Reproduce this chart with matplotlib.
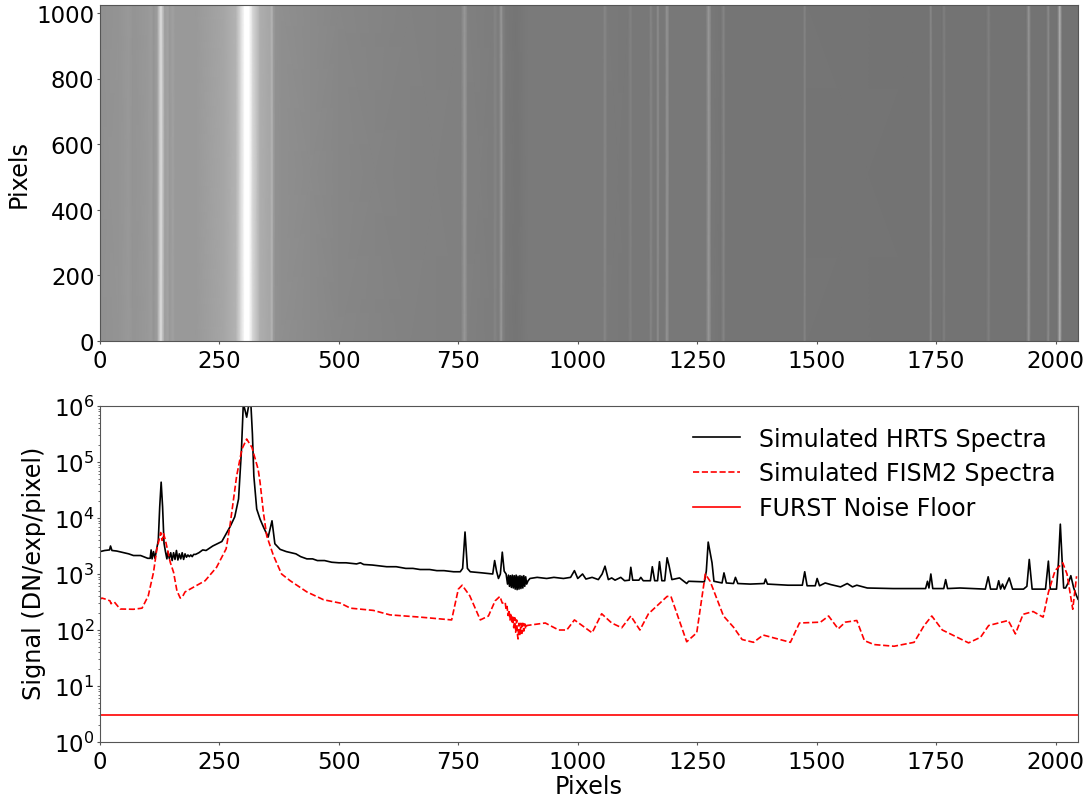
import matplotlib
matplotlib.use('AGG')

import numpy as np
import matplotlib.pyplot as plt

plt.rcParams['font.size'] = 17
plt.rcParams['axes.edgecolor'] = '#555555'
plt.rcParams['xtick.color'] = '#555555'
plt.rcParams['ytick.color'] = '#555555'
plt.rcParams['xtick.labelcolor'] = 'black'
plt.rcParams['ytick.labelcolor'] = 'black'
plt.rcParams['xtick.labelsize'] = 16.5
plt.rcParams['ytick.labelsize'] = 16.5
plt.rcParams['xtick.major.size'] = 2.5
plt.rcParams['ytick.major.size'] = 2.5
plt.rcParams['ytick.minor.size'] = 1.5
plt.rcParams['xtick.major.pad'] = 3
plt.rcParams['ytick.major.pad'] = 1.5

# Detector image: column position and grey level of the stripes
stripe_x = [0, 40, 60, 70, 100, 108, 112, 120, 124, 128, 132, 136, 142, 146, 152, 158, 200, 260, 285, 295, 303, 312,
            320, 335, 355, 360, 364, 368, 380, 500, 650, 756, 763, 770, 822, 827, 832, 836, 840, 844, 850, 870, 885,
            895, 1000, 1052, 1057, 1062, 1105, 1110, 1115, 1149, 1153, 1158, 1164, 1168, 1172, 1182, 1187, 1192,
            1268, 1274, 1280, 1300, 1305, 1310, 1471, 1475, 1479, 1735, 1739, 1743, 1763, 1767, 1771, 1855, 1860,
            1865, 1939, 1944, 1949, 1981, 1985, 1989, 2004, 2009, 2014, 2047]
stripe_gray = [0.57, 0.58, 0.60, 0.58, 0.60, 0.61, 0.58, 0.62, 0.76, 0.86, 0.74, 0.62, 0.64, 0.60, 0.63, 0.60, 0.60,
               0.65, 0.70, 0.86, 1.0, 1.0, 0.84, 0.68, 0.65, 0.70, 0.60, 0.57, 0.56, 0.53, 0.51, 0.50, 0.60, 0.50,
               0.49, 0.52, 0.49, 0.50, 0.60, 0.50, 0.47, 0.46, 0.47, 0.48, 0.48, 0.48, 0.53, 0.48, 0.47, 0.51, 0.47,
               0.47, 0.52, 0.47, 0.47, 0.55, 0.47, 0.47, 0.58, 0.47, 0.47, 0.60, 0.47, 0.46, 0.52, 0.46, 0.46, 0.52,
               0.46, 0.45, 0.53, 0.45, 0.45, 0.50, 0.45, 0.45, 0.50, 0.45, 0.45, 0.58, 0.45, 0.45, 0.55, 0.45, 0.45,
               0.68, 0.45, 0.45]
image_rows = [0, 1024]

# HRTS spectrum, log10 of the signal
hrts_x = [0, 10, 20, 22, 25, 35, 50, 60, 70, 85, 100, 105, 107, 109, 112, 115, 118, 122, 125, 128, 131, 134, 137, 140,
          142, 145, 148, 151, 154, 157, 160, 163, 166, 169, 172, 175, 178, 181, 184, 187, 190, 193, 196, 200, 207,
          215, 222, 236, 255, 272, 282, 290, 296, 300, 307, 312, 316, 319, 322, 328, 335, 342, 352, 360, 366, 377,
          390, 400, 410, 420, 433, 445, 455, 470, 485, 500, 515, 537, 545, 552, 570, 590, 600, 620, 640, 655, 670,
          690, 705, 720, 740, 754, 759, 764, 769, 775, 800, 822, 826, 830, 834, 838, 842, 846, 850, 853, 855, 857,
          859, 861, 863, 865, 867, 869, 871, 873, 875, 877, 879, 881, 883, 885, 887, 889, 891, 893, 896, 900, 915,
          935, 950, 970, 985, 993, 1000, 1010, 1017, 1030, 1043, 1051, 1057, 1064, 1071, 1078, 1090, 1098, 1108,
          1111, 1115, 1128, 1132, 1137, 1152, 1156, 1161, 1167, 1171, 1176, 1182, 1187, 1191, 1197, 1213, 1228, 1232,
          1265, 1269, 1273, 1281, 1285, 1302, 1306, 1311, 1326, 1330, 1335, 1361, 1390, 1393, 1397, 1440, 1470, 1475,
          1480, 1497, 1501, 1506, 1518, 1530, 1550, 1564, 1575, 1584, 1606, 1660, 1728, 1732, 1735, 1739, 1743,
          1766, 1770, 1774, 1800, 1853, 1859, 1864, 1877, 1881, 1885, 1889, 1893, 1903, 1910, 1933, 1940, 1945,
          1951, 1979, 1985, 1989, 2002, 2006, 2010, 2014, 2017, 2021, 2028, 2032, 2038, 2044, 2047]
hrts_log = [3.40, 3.42, 3.43, 3.50, 3.42, 3.41, 3.38, 3.36, 3.33, 3.33, 3.28, 3.28, 3.43, 3.27, 3.40, 3.28, 3.42, 3.60,
            4.20, 4.64, 4.20, 3.55, 3.40, 3.27, 3.40, 3.28, 3.38, 3.24, 3.38, 3.26, 3.42, 3.25, 3.36, 3.27, 3.38, 3.26,
            3.36, 3.30, 3.34, 3.31, 3.34, 3.31, 3.35, 3.35, 3.38, 3.43, 3.42, 3.50, 3.58, 3.84, 4.02, 4.34, 5.20, 6.05,
            5.80, 6.05, 6.00, 5.50, 4.75, 4.16, 3.98, 3.84, 3.66, 3.95, 3.54, 3.44, 3.40, 3.38, 3.36, 3.31, 3.27, 3.27,
            3.24, 3.24, 3.21, 3.20, 3.20, 3.18, 3.20, 3.17, 3.16, 3.14, 3.13, 3.13, 3.10, 3.10, 3.08, 3.08, 3.06, 3.06,
            3.04, 3.04, 3.10, 3.75, 3.10, 3.04, 3.02, 3.00, 3.24, 3.05, 2.92, 3.00, 3.39, 3.05, 3.00, 2.82, 2.98, 2.78,
            2.97, 2.76, 2.98, 2.75, 2.97, 2.73, 2.98, 2.72, 2.96, 2.73, 2.97, 2.74, 2.96, 2.75, 2.97, 2.78, 2.95, 2.82,
            2.88, 2.92, 2.94, 2.92, 2.94, 2.92, 2.94, 3.06, 2.92, 3.00, 2.91, 2.94, 2.90, 3.00, 3.14, 2.90, 2.93,
            2.89, 2.94, 2.88, 2.89, 3.12, 2.89, 2.89, 2.94, 2.88, 2.88, 3.13, 2.88, 2.88, 3.22, 2.88, 2.88, 3.29, 3.15,
            2.90, 2.93, 2.83, 2.87, 2.86, 3.05, 3.57, 3.20, 2.87, 2.84, 3.02, 2.84, 2.83, 2.94, 2.83, 2.82, 2.83, 2.91,
            2.82, 2.80, 2.80, 3.04, 2.79, 2.79, 2.92, 2.79, 2.84, 2.81, 2.77, 2.83, 2.77, 2.80, 2.75, 2.74, 2.74, 2.87,
            2.75, 3.00, 2.74, 2.74, 2.90, 2.74, 2.75, 2.73, 2.95, 2.73, 2.73, 2.88, 2.73, 2.82, 2.73, 2.93, 2.73, 2.73,
            2.78, 3.26, 2.73, 2.73, 3.23, 2.73, 2.73, 3.20, 3.89, 3.20, 2.75, 2.75, 2.87, 2.97, 2.75, 2.61, 2.55]

# FISM2 spectrum, log10 of the signal
fism_x = [0, 4, 12, 21, 23, 30, 42, 70, 88, 101, 112, 119, 124, 127, 130, 133, 137, 147, 154, 161, 168, 173, 178,
          220, 244, 264, 272, 286, 297, 307, 318, 331, 335, 342, 349, 363, 380, 398, 433, 468, 503, 524, 572, 607,
          670, 736, 750, 758, 774, 796, 813, 827, 837, 842, 848, 850, 852, 854, 856, 858, 860, 862, 864, 866, 868,
          870, 872, 874, 875, 877, 879, 881, 883, 885, 887, 889, 891, 893, 932, 960, 977, 993, 1030, 1050, 1071,
          1092, 1111, 1130, 1148, 1187, 1195, 1228, 1249, 1267, 1277, 1305, 1326, 1344, 1368, 1388, 1445, 1464,
          1508, 1525, 1545, 1560, 1584, 1600, 1620, 1662, 1704, 1725, 1741, 1763, 1818, 1843, 1860, 1901, 1916,
          1932, 1953, 1974, 1985, 1999, 2015, 2024, 2036, 2044]
fism_log = [2.55, 2.57, 2.55, 2.52, 2.47, 2.50, 2.375, 2.37, 2.39, 2.61, 3.03, 3.45, 3.62, 3.74, 3.60, 3.72, 3.60,
            3.21, 3.03, 2.70, 2.57, 2.60, 2.68, 2.88, 3.12, 3.45, 3.86, 4.75, 5.23, 5.41, 5.26, 4.87, 4.64, 4.10, 3.68,
            3.33, 3.00, 2.88, 2.68, 2.54, 2.48, 2.39, 2.35, 2.27, 2.23, 2.18, 2.73, 2.80, 2.61, 2.18, 2.25, 2.52, 2.60,
            2.48, 2.50, 2.36, 2.42, 2.26, 2.36, 2.18, 2.30, 2.12, 2.26, 2.04, 2.22, 1.96, 2.18, 1.90, 1.84, 2.12, 1.90,
            2.12, 1.94, 2.12, 1.98, 2.11, 2.02, 2.08, 2.125, 2.00, 2.00, 2.18, 1.95, 2.29, 2.125, 2.04, 2.25, 2.00,
            2.29, 2.60, 2.60, 1.79, 1.95, 3.00, 2.87, 2.25, 2.05, 1.83, 1.78, 1.91, 1.78, 2.125, 2.14, 2.25, 2.02,
            2.14, 2.17, 1.81, 1.74, 1.71, 1.78, 2.08, 2.25, 2.00, 1.77, 1.87, 2.08, 2.17, 1.93, 2.28, 2.33, 2.23, 2.67,
            3.06, 3.20, 3.00, 2.37, 2.96]

noise_floor = 3

fig = plt.figure(figsize=(10.87, 8.04), dpi=100)
ax1 = fig.add_axes([100/1087, 1-342/804, 978/1087, 336/804])
ax2 = fig.add_axes([100/1087, 1-743/804, 978/1087, 336/804])

# Top panel
gray = np.array([stripe_gray, stripe_gray])
ax1.pcolormesh(stripe_x, image_rows, gray, cmap='gray', vmin=0, vmax=1, shading='gouraud')
ax1.set_xlim([0, 2047])
ax1.set_ylim([0, 1024])
ax1.set_yticks([0, 200, 400, 600, 800, 1000])
ax1.set_xticks([0, 250, 500, 750, 1000, 1250, 1500, 1750, 2000])
ax1.set_ylabel('Pixels', fontsize=17.3)

# Bottom panel
ax2.plot(hrts_x, 10**np.array(hrts_log), 'k', linewidth=1.2, label='Simulated HRTS Spectra')
ax2.plot(fism_x, 10**np.array(fism_log), 'r--', linewidth=1.2, label='Simulated FISM2 Spectra')
ax2.axhline(noise_floor, color='r', linewidth=1.2, label='FURST Noise Floor')
ax2.set_yscale('log')
ax2.set_xlim([0, 2047])
ax2.set_ylim([1, 1e6])
ax2.set_xticks([0, 250, 500, 750, 1000, 1250, 1500, 1750, 2000])
ax2.set_xlabel('Pixels', fontsize=17.3, labelpad=1)
ax2.set_ylabel('Signal (DN/exp/pixel)', fontsize=17.3)
ax2.yaxis.set_label_coords(-0.055, 0.505)
ax2.legend(frameon=False, loc='upper right', labelspacing=0.45, bbox_to_anchor=(0.999, 1.002))

plt.savefig('out.png', dpi=100)
